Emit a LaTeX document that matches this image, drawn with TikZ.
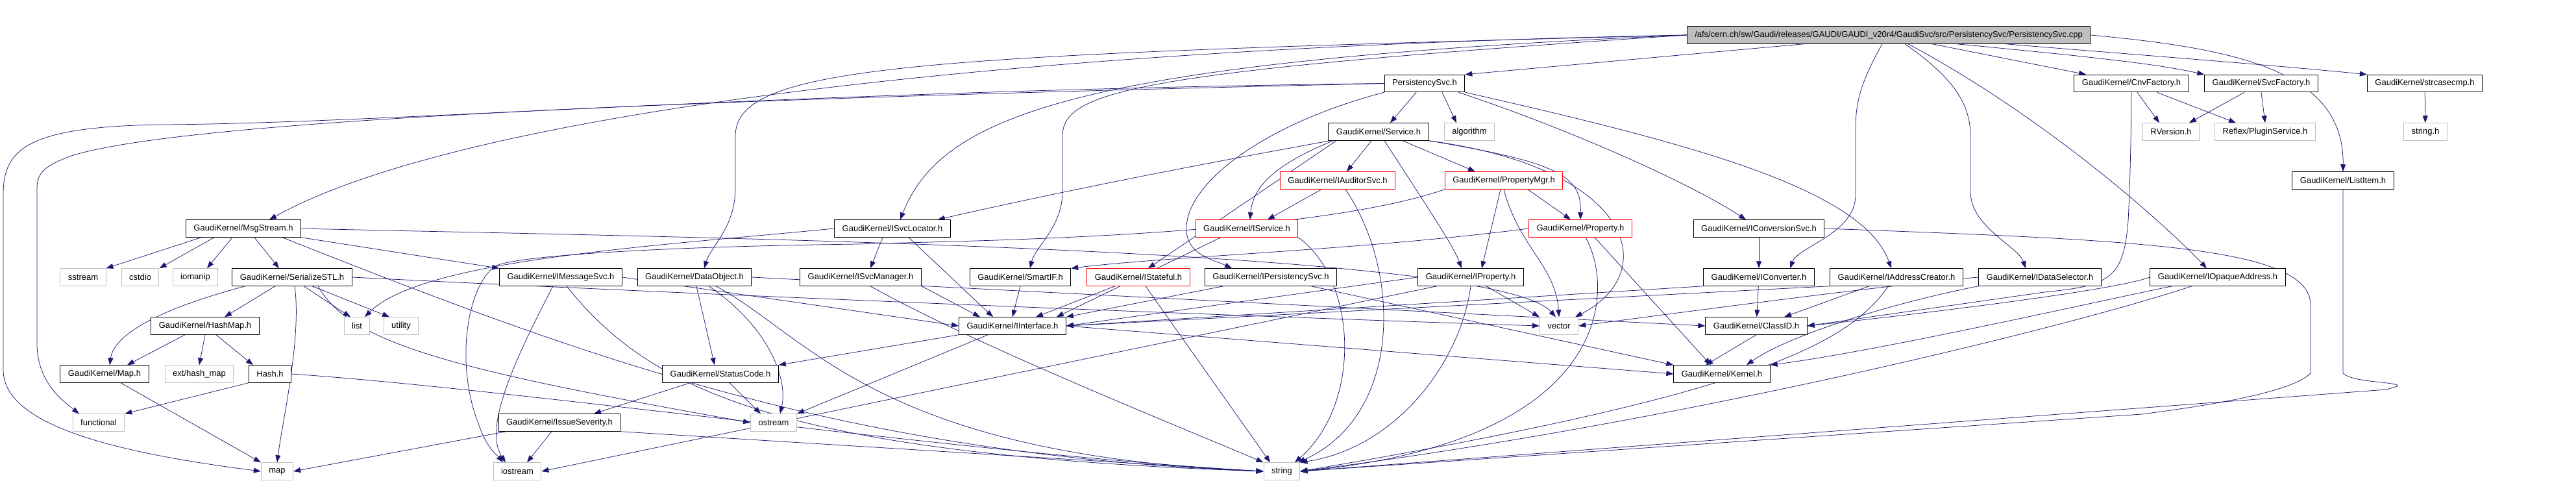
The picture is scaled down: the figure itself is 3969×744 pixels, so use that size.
\documentclass[tikz,border=0pt]{standalone}
\usepackage{fontspec}
\setmainfont{Liberation Sans}
\usetikzlibrary{arrows.meta}

\definecolor{edgeblue}{HTML}{191970}
\definecolor{boxgray}{HTML}{BFBFBF}

\pgfdeclarelayer{edges}
\pgfsetlayers{edges,main}

\tikzset{
	hdr/.style={draw=black, fill=white, line width=1pt, inner xsep=12pt, inner ysep=0pt,
		minimum height=26.5pt, font=\fontsize{13}{15}\selectfont},
	syshdr/.style={hdr, draw=boxgray},
	redhdr/.style={hdr, draw=red},
	srcfile/.style={hdr, fill=boxgray},
	dep/.style={draw=edgeblue, line width=0.75pt, -{Triangle[length=11pt,width=8pt]}},
}

\begin{document}
\begin{tikzpicture}[x=1pt,y=-1pt]
	\useasboundingbox (0,0) rectangle (3969,744);

	%source file
	\node[srcfile] (cpp) at (2910,54) {/afs/cern.ch/sw/Gaudi/releases/GAUDI/GAUDI\_v20r4/GaudiSvc/src/PersistencySvc/PersistencySvc.cpp};

	%row 1
	\node[hdr] (psvc)   at (2195,128.5) {PersistencySvc.h};
	\node[hdr] (cnvf)   at (3284,128.5) {GaudiKernel/CnvFactory.h};
	\node[hdr] (svcf)   at (3484,128.5) {GaudiKernel/SvcFactory.h};
	\node[hdr] (strcmp) at (3736,128.5) {GaudiKernel/strcasecmp.h};
	%row 2
	\node[hdr]    (service) at (2124,203) {GaudiKernel/Service.h};
	\node[syshdr] (algo)    at (2264,203) {algorithm};
	\node[syshdr] (rver)    at (3345,203) {RVersion.h};
	\node[syshdr] (plugin)  at (3490,203) {Reflex/PluginService.h};
	\node[syshdr] (stringh) at (3737,203) {string.h};
	%row 3
	\node[redhdr] (iauditor) at (2061,278) {GaudiKernel/IAuditorSvc.h};
	\node[redhdr] (propmgr)  at (2317,278) {GaudiKernel/PropertyMgr.h};
	\node[hdr]    (listitem) at (3610,278) {GaudiKernel/ListItem.h};
	%row 4
	\node[hdr]    (msgstream) at (375,352)  {GaudiKernel/MsgStream.h};
	\node[hdr]    (isvcloc)   at (1375,352) {GaudiKernel/ISvcLocator.h};
	\node[redhdr] (iservice)  at (1921,352) {GaudiKernel/IService.h};
	\node[redhdr] (property)  at (2435,352) {GaudiKernel/Property.h};
	\node[hdr]    (iconvsvc)  at (2710,352) {GaudiKernel/IConversionSvc.h};
	%row 5
	\node[syshdr] (sstream)   at (128,427)  {sstream};
	\node[syshdr] (cstdio)    at (216,427)  {cstdio};
	\node[syshdr] (iomanip)   at (301,427)  {iomanip};
	\node[hdr]    (serialize) at (450,427)  {GaudiKernel/SerializeSTL.h};
	\node[hdr]    (imsgsvc)   at (864,427)  {GaudiKernel/IMessageSvc.h};
	\node[hdr]    (dataobj)   at (1070,427) {GaudiKernel/DataObject.h};
	\node[hdr]    (isvcmgr)   at (1326,427) {GaudiKernel/ISvcManager.h};
	\node[hdr]    (smartif)   at (1572,427) {GaudiKernel/SmartIF.h};
	\node[redhdr] (istateful) at (1754,427) {GaudiKernel/IStateful.h};
	\node[hdr]    (ipersist)  at (1958,427) {GaudiKernel/IPersistencySvc.h};
	\node[hdr]    (iprop)     at (2266,427) {GaudiKernel/IProperty.h};
	\node[hdr]    (iconv)     at (2710,427) {GaudiKernel/IConverter.h};
	\node[hdr]    (iaddr)     at (2922,427) {GaudiKernel/IAddressCreator.h};
	\node[hdr]    (idatasel)  at (3143,427) {GaudiKernel/IDataSelector.h};
	\node[hdr]    (iopaque)   at (3417,427) {GaudiKernel/IOpaqueAddress.h};
	%row 6
	\node[hdr]    (hashmap)    at (316,502)  {GaudiKernel/HashMap.h};
	\node[syshdr] (list)       at (550,502)  {list};
	\node[syshdr] (utility)    at (618,502)  {utility};
	\node[hdr]    (iinterface) at (1560,502) {GaudiKernel/IInterface.h};
	\node[syshdr] (vector)     at (2402,502) {vector};
	\node[hdr]    (classid)    at (2706,502) {GaudiKernel/ClassID.h};
	%row 7
	\node[hdr]    (gmap)       at (161,576)  {GaudiKernel/Map.h};
	\node[syshdr] (hashmapext) at (307,576)  {ext/hash\_map};
	\node[hdr]    (hash)       at (416,576)  {Hash.h};
	\node[hdr]    (statuscode) at (1110,576) {GaudiKernel/StatusCode.h};
	\node[hdr]    (kernel)     at (2653,576) {GaudiKernel/Kernel.h};
	%row 8
	\node[syshdr] (functional) at (152,651)  {functional};
	\node[hdr]    (severity)   at (862,651)  {GaudiKernel/IssueSeverity.h};
	\node[syshdr] (ostream)    at (1192,651) {ostream};
	%row 9
	\node[syshdr] (map)      at (427,726)  {map};
	\node[syshdr] (iostream) at (797,726)  {iostream};
	\node[syshdr] (string)   at (1975,726) {string};

	\begin{pgfonlayer}{edges}
	%edges from the source file
	\draw[dep] ([xshift=-131pt]cpp.south) -- (psvc.north east);
	\draw[dep] (cpp.west) .. controls (1500,75) and (700,180) .. ([xshift=40pt]msgstream.north);
	\draw[dep] (cpp.west) .. controls (1400,85) and (1133,100) .. (1133,210) -- (1133,290) .. controls (1133,350) and (1095,380) .. ([xshift=15pt]dataobj.north);
	\draw[dep] (cpp.west) .. controls (1650,95) and (1450,180) .. ([xshift=12pt]isvcloc.north);
	\draw[dep] (cpp.west) .. controls (1750,110) and (1637,140) .. (1637,210) -- (1637,295) .. controls (1637,350) and (1595,380) .. ([xshift=15pt]smartif.north);
	\draw[dep] ([xshift=-10pt]cpp.south) .. controls (2865,130) and (2859,160) .. (2859,200) -- (2859,300) .. controls (2859,360) and (2770,380) .. ([xshift=48pt]iconv.north);
	\draw[dep] ([xshift=25pt]cpp.south) .. controls (3010,120) and (3036,160) .. (3036,210) -- (3036,295) .. controls (3036,350) and (3110,380) .. ([xshift=-22pt]idatasel.north);
	\draw[dep] ([xshift=30pt]cpp.south) .. controls (3150,180) and (3330,340) .. ([xshift=-17pt]iopaque.north);
	\draw[dep] ([xshift=67pt]cpp.south) -- ([xshift=-70pt]cnvf.north);
	\draw[dep] ([xshift=105pt]cpp.south) .. controls (3250,90) and (3330,100) .. (svcf.north west);
	\draw[dep] ([xshift=180pt]cpp.south) .. controls (3300,85) and (3500,100) .. (strcmp.north west);
	\draw[dep] (cpp.east) .. controls (3450,75) and (3612,110) .. (listitem.north);

	%PersistencySvc.h
	\draw[dep] ([xshift=-13pt]psvc.south) -- ([xshift=18pt]service.north);
	\draw[dep] ([xshift=27pt]psvc.south) -- ([xshift=-20pt]algo.north);
	\draw[dep] (psvc.west) .. controls (1200,140) and (600,190) .. (250,192) .. controls (40,195) and (5,230) .. (5,300) -- (5,570) .. controls (5,660) and (200,700) .. (map.west);
	\draw[dep] (psvc.west) .. controls (1200,150) and (300,180) .. (110,240) .. controls (70,255) and (57,265) .. (57,290) -- (57,530) .. controls (57,590) and (100,620) .. ([xshift=-30pt]functional.north);
	\draw[dep] (psvc.south east) .. controls (2600,220) and (2870,290) .. ([xshift=-8pt]iaddr.north);
	\draw[dep] ([xshift=-10pt]psvc.south east) .. controls (2420,200) and (2600,280) .. ([xshift=-20pt]iconvsvc.north);
	\draw[dep] (psvc.south west) .. controls (1950,190) and (1830,280) .. (1828,350) .. controls (1826,392) and (1870,400) .. ([xshift=-60pt]ipersist.north);

	%Service.h
	\draw[dep] ([xshift=-11pt]service.south) -- ([xshift=14pt]iauditor.north);
	\draw[dep] ([xshift=37pt]service.south) -- ([xshift=-44pt]propmgr.north);
	\draw[dep] (service.south east) .. controls (2400,250) and (2437,270) .. (property.north);
	\draw[dep] ([xshift=9pt]service.south) .. controls (2200,320) and (2240,380) .. ([xshift=-14pt]iprop.north);
	\draw[dep] (service.south east) .. controls (2520,260) and (2560,420) .. ([xshift=25pt]vector.north);
	\draw[dep] ([xshift=-75pt]service.south) .. controls (1950,235) and (1700,280) .. ([xshift=-20pt]isvcloc.north east);
	\draw[dep] ([xshift=-70pt]service.south) .. controls (1960,255) and (1930,290) .. ([xshift=5pt]iservice.north);
	\draw[dep] ([xshift=-65pt]service.south) -- ([xshift=15pt]istateful.north);

	%IAuditorSvc.h, PropertyMgr.h, Property.h
	\draw[dep] ([xshift=-25pt]iauditor.south) -- ([xshift=32pt]iservice.north);
	\draw[dep] ([xshift=12pt]iauditor.south) .. controls (2160,420) and (2160,640) .. ([xshift=25pt]string.north);
	\draw[dep] ([xshift=37pt]propmgr.south) -- ([xshift=-15pt]property.north);
	\draw[dep] ([xshift=-5pt]propmgr.south) -- ([xshift=17pt]iprop.north);
	\draw[dep] (propmgr.south) .. controls (2340,380) and (2397,410) .. (vector.north);
	\draw[dep] (propmgr.south west) .. controls (2000,370) and (1400,372) .. (1324,376) .. controls (1000,380) and (790,395) .. (763,410) .. controls (720,440) and (700,560) .. (738,655) .. controls (750,690) and (765,700) .. ([xshift=-22pt]iostream.north);
	\draw[dep] (property.west) .. controls (2100,385) and (1800,395) .. (smartif.north east);
	\draw[dep] ([xshift=8pt]property.south) .. controls (2490,450) and (2480,680) .. (string.east);
	\draw[dep] ([xshift=22pt]property.south) -- ([xshift=-17pt]kernel.north);

	%IService.h, IConversionSvc.h, ListItem.h
	\draw[dep] ([xshift=-40pt]iservice.south) -- ([xshift=-15pt]iinterface.north east);
	\draw[dep] (iservice.south east) .. controls (2090,430) and (2100,620) .. ([xshift=20pt]string.north);
	\draw[dep] (iconvsvc) -- (iconv);
	\draw[dep] (iconvsvc.east) .. controls (3300,370) and (3560,380) .. (3560,470) -- (3560,575) .. controls (3530,605) and (3400,625) .. (3300,638) -- (string.east);
	\draw[dep] (listitem.south) -- (3610,575) .. controls (3625,590) and (3700,588) .. (3694,595) -- (3677,600) -- (string.east);

	%MsgStream.h
	\draw[dep] ([xshift=-65pt]msgstream.south) -- (sstream.north east);
	\draw[dep] ([xshift=-45pt]msgstream.south) -- (cstdio.north east);
	\draw[dep] ([xshift=-17pt]msgstream.south) -- ([xshift=18pt]iomanip.north);
	\draw[dep] ([xshift=17pt]msgstream.south) -- ([xshift=-20pt]serialize.north);
	\draw[dep] (msgstream.south east) -- (imsgsvc.north west);
	\draw[dep] ([xshift=60pt]msgstream.south) .. controls (900,550) and (1300,700) .. (string.west);
	\draw[dep] (msgstream.east) .. controls (1000,365) and (2300,380) .. ([xshift=-5pt]vector.north);

	%SerializeSTL.h, HashMap.h, Map.h, Hash.h
	\draw[dep] ([xshift=-72pt]serialize.south) .. controls (230,480) and (175,520) .. ([xshift=8pt]gmap.north);
	\draw[dep] ([xshift=-26pt]serialize.south) -- ([xshift=30pt]hashmap.north);
	\draw[dep] ([xshift=4pt]serialize.south) .. controls (465,520) and (435,650) .. (map.north);
	\draw[dep] ([xshift=18pt]serialize.south) -- ([xshift=-10pt]list.north);
	\draw[dep] ([xshift=31pt]serialize.south) -- ([xshift=-18pt]utility.north);
	\draw[dep] (serialize.east) .. controls (1200,460) and (2000,490) .. (vector.west);
	\draw[dep] ([xshift=40pt]serialize.south) .. controls (540,530) and (700,570) .. (ostream.west);
	\draw[dep] ([xshift=-31pt]hashmap.south) -- ([xshift=35pt]gmap.north);
	\draw[dep] (hashmap.south) -- (hashmapext.north);
	\draw[dep] ([xshift=17pt]hashmap.south) -- ([xshift=-26pt]hash.north);
	\draw[dep] ([xshift=25pt]gmap.south) -- (map.north west);
	\draw[dep] (hash.south west) -- (functional.north east);
	\draw[dep] (hash.east) .. controls (800,600) and (1500,700) .. (string.west);

	%IssueSeverity.h, IMessageSvc.h, DataObject.h, StatusCode.h
	\draw[dep] ([xshift=12pt]severity.south west) -- (map.east);
	\draw[dep] ([xshift=-12pt]severity.south) -- ([xshift=15pt]iostream.north);
	\draw[dep] (severity.south east) -- (string.west);
	\draw[dep] ([xshift=-12pt]imsgsvc.south) .. controls (790,560) and (745,660) .. ([xshift=-18pt]iostream.north);
	\draw[dep] ([xshift=9pt]imsgsvc.south) .. controls (1000,600) and (1200,700) .. (string.west);
	\draw[dep] (imsgsvc.east) -- (iinterface.west);
	\draw[dep] ([xshift=3pt]dataobj.south) -- ([xshift=-9pt]statuscode.north);
	\draw[dep] ([xshift=22pt]dataobj.south) .. controls (1180,500) and (1215,580) .. ([xshift=10pt]ostream.north);
	\draw[dep] ([xshift=33pt]dataobj.south) .. controls (1250,520) and (1350,700) .. (string.west);
	\draw[dep] (dataobj.east) -- (classid.west);
	\draw[dep] ([xshift=-47pt]statuscode.south) -- ([xshift=53pt]severity.north);
	\draw[dep] ([xshift=14pt]statuscode.south) -- ([xshift=-20pt]ostream.north);

	%ISvcLocator.h, ISvcManager.h, SmartIF.h, IStateful.h
	\draw[dep] ([xshift=-15pt]isvcloc.south) -- ([xshift=15pt]isvcmgr.north);
	\draw[dep] ([xshift=25pt]isvcloc.south) -- ([xshift=-30pt]iinterface.north);
	\draw[dep] (isvcloc.west) .. controls (1000,380) and (650,400) .. ([xshift=12pt]list.north);
	\draw[dep] (isvcmgr.south east) -- ([xshift=-50pt]iinterface.north);
	\draw[dep] ([xshift=15pt]isvcmgr.south) .. controls (1500,530) and (1800,650) .. (string.north west);
	\draw[dep] (smartif.south) -- (iinterface.north);
	\draw[dep] ([xshift=-36pt]istateful.south) -- ([xshift=36pt]iinterface.north);
	\draw[dep] ([xshift=11pt]istateful.south) -- ([xshift=-18pt]string.north);

	%IPersistencySvc.h, IProperty.h
	\draw[dep] ([xshift=-73pt]ipersist.south) -- (iinterface.north east);
	\draw[dep] ([xshift=62pt]ipersist.south) -- (kernel.north west);
	\draw[dep] ([xshift=24pt]iprop.south) -- (vector.north west);
	\draw[dep] (iprop.west) -- (iinterface.east);
	\draw[dep] ([xshift=-52pt]iprop.south) -- (iostream.east);
	\draw[dep] (iprop.south) .. controls (2250,560) and (2150,690) .. (string.north east);

	%IConverter.h, IAddressCreator.h, IDataSelector.h, IOpaqueAddress.h
	\draw[dep] (iconv) -- (classid);
	\draw[dep] (iconv.south west) -- (iinterface.east);
	\draw[dep] ([xshift=-42pt]iaddr.south) -- ([xshift=43pt]classid.north);
	\draw[dep] ([xshift=-12pt]iaddr.south) .. controls (2850,520) and (2750,600) .. (string.east);
	\draw[dep] (iaddr.south west) -- (iinterface.east);
	\draw[dep] (idatasel.south west) .. controls (2900,470) and (2750,520) .. ([xshift=38pt]kernel.north);
	\draw[dep] (idatasel.west) .. controls (2900,440) and (2600,480) .. (vector.east);
	\draw[dep] (iopaque.west) .. controls (3250,450) and (2900,490) .. (classid.east);
	\draw[dep] ([xshift=-70pt]iopaque.south) .. controls (3250,460) and (2900,540) .. (kernel.north east);
	\draw[dep] ([xshift=-40pt]iopaque.south) .. controls (3200,500) and (2600,650) .. (string.east);

	%factories, strcasecmp.h
	\draw[dep] ([xshift=9pt]cnvf.south) -- ([xshift=-18pt]rver.north);
	\draw[dep] ([xshift=39pt]cnvf.south) -- ([xshift=-45pt]plugin.north);
	\draw[dep] (cnvf.south) .. controls (3283,250) and (3281,300) .. (3279,340) .. controls (3272,430) and (3250,440) .. (3150,450) -- (classid.east);
	\draw[dep] ([xshift=-26pt]svcf.south) -- ([xshift=28pt]rver.north);
	\draw[dep] (svcf.south) -- (plugin.north);
	\draw[dep] (strcmp) -- (stringh);

	%IInterface.h, ClassID.h
	\draw[dep] (iinterface.east) -- (kernel.west);
	\draw[dep] (iinterface.south west) -- (statuscode.north east);
	\draw[dep] ([xshift=-38pt]iinterface.south) -- (ostream.north east);
	\draw[dep] (classid.south) -- ([xshift=-25pt]kernel.north);
	\end{pgfonlayer}
\end{tikzpicture}
\end{document}
